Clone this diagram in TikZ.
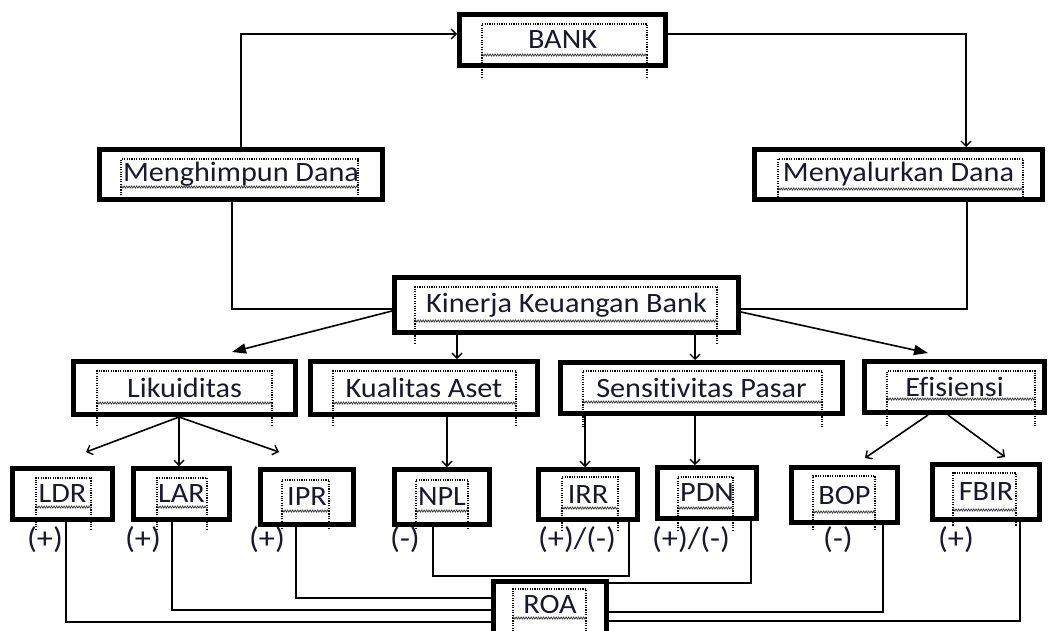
\documentclass[tikz,border=0pt]{standalone}
\usepackage{fontspec}
\setmainfont{Carlito}[FakeStretch=1.08,Ligatures=NoCommon]
\usetikzlibrary{arrows.meta,calc,decorations.pathmorphing}
\definecolor{txt}{RGB}{25,25,45}
\newcommand\tframe[5]{%
 \draw[tdot] (#1,#4) -- (#1,#3) -- (#2,#3) -- (#2,#4);
 \draw[tdot] (#1,#4) -- (#1,#5) (#2,#4) -- (#2,#5);
 \draw[twave] (#1,#4) -- (#2,#4);}
\begin{document}
\begin{tikzpicture}[x=1pt,y=-1pt,
 box/.style={draw, line width=5pt, inner sep=0pt, fill=white},
 lbl/.style={font=\fontsize{28}{30}\selectfont, text=txt, inner sep=0pt},
 sgn/.style={font=\fontsize{30}{32}\selectfont, text=txt, inner sep=0pt},
 conn/.style={line width=1.6pt},
 sa/.style={conn, -{Straight Barb[length=5pt,width=10pt,line width=1.4pt]}},
 ba/.style={conn, -{Triangle[length=14pt,width=10pt]}},
 tdot/.style={line width=1.1pt, dash pattern=on 1.1pt off 1.3pt},
 twave/.style={line width=0.8pt, gray!50!black, decorate, decoration={zigzag, amplitude=1pt, segment length=2.5pt}}]
\useasboundingbox (0,0) rectangle (1049,630);
\clip (0,0) rectangle (1049,630);
\fill[white] (0,0) rectangle (1049,630);

% boxes
\node[box, lbl, minimum width=206pt, minimum height=51pt] (bank) at (562.5,40) {BANK};
\node[box, lbl, minimum width=283pt, minimum height=50pt] (mengh) at (241,174.5) {Menghimpun Dana};
\node[box, lbl, minimum width=288pt, minimum height=50pt] (menyal) at (898.5,174.5) {Menyalurkan Dana};
\node[box, lbl, minimum width=344pt, minimum height=55pt] (kin) at (566.5,305) {Kinerja Keuangan Bank};
\node[box, lbl, minimum width=222pt, minimum height=53pt] (lik) at (184.5,388) {Likuiditas};
\node[box, lbl, minimum width=227pt, minimum height=53pt] (kual) at (424,388) {Kualitas Aset};
\node[box, lbl, minimum width=282pt, minimum height=51pt] (sens) at (701.5,388) {Sensitivitas Pasar};
\node[box, lbl, minimum width=180pt, minimum height=51pt] (efis) at (954.5,387) {Efisiensi};
\node[box, lbl, minimum width=100pt, minimum height=51pt] (ldr) at (62.5,494) {LDR};
\node[box, lbl, minimum width=96pt, minimum height=51pt] (lar) at (181.5,494) {LAR};
\node[box, lbl, minimum width=93pt, minimum height=55pt] (ipr) at (307,497) {IPR};
\node[box, lbl, minimum width=95pt, minimum height=55pt] (npl) at (442,497) {NPL};
\node[box, lbl, minimum width=99pt, minimum height=50pt] (irr) at (588,494.5) {IRR};
\node[box, lbl, minimum width=99pt, minimum height=51pt] (pdn) at (707,493) {PDN};
\node[box, lbl, minimum width=106pt, minimum height=55pt] (bop) at (844.5,495) {BOP};
\node[box, lbl, minimum width=107pt, minimum height=55pt] (fbir) at (986,492) {FBIR};
\node[box, minimum width=113pt, minimum height=56pt] (roa) at (550,609.5) {};
\node[lbl] (roat) at (550,604) {ROA};

% signs
\node[sgn] (sldr) at (45,540) {(+)};
\node[sgn] (slar) at (143,540) {(+)};
\node[sgn] (sipr) at (267,540) {(+)};
\node[sgn] (snpl) at (405,540) {(-)};
\node[sgn] (sirr) at (577,540) {(+)/(-)};
\node[sgn] (spdn) at (691,540) {(+)/(-)};
\node[sgn] (sbop) at (838,540) {(-)};
\node[sgn] (sfbir) at (956,540) {(+)};

% top loop
\draw[sa] (mengh.north) |- ([yshift=6pt]bank.west);
\draw[sa] ([yshift=6pt]bank.east) -| ([xshift=67.5pt]menyal.north);
\draw[conn] ([xshift=-9pt]mengh.south) |- ([yshift=-4pt]kin.west);
\draw[conn] ([xshift=68.5pt]menyal.south) |- ([yshift=-4pt]kin.east);

% Kinerja to second row
\draw[ba] ([yshift=-6pt]kin.west) -- ([xshift=47.5pt,yshift=7pt]lik.north);
\draw[ba] ([yshift=-7pt]kin.east) -- ([xshift=-26.5pt,yshift=6pt]efis.north);
\coordinate (kq) at ([xshift=33pt]kual.north);
\draw[sa] (kq |- kin.south) -- (kq);
\coordinate (sn) at ([xshift=-6.5pt]sens.north);
\draw[sa] (sn |- kin.south) -- (sn);

% second row to third row
\coordinate (ls) at ([xshift=-5.5pt]lik.south);
\draw[sa] (ls) -- ([xshift=23.5pt,yshift=14pt]ldr.north);
\draw[sa] (ls) -- (ls |- lar.north);
\draw[sa] (ls) -- ([xshift=-28pt,yshift=15pt]ipr.north);
\coordinate (ks) at ([xshift=23pt]kual.south);
\draw[sa] (ks) -- (ks |- npl.north);
\coordinate (s1) at ([xshift=-116.5pt]sens.south);
\draw[sa] (s1) -- (s1 |- irr.north);
\coordinate (s2) at ([xshift=-6.5pt]sens.south);
\draw[sa] (s2) -- (s2 |- pdn.north);
\draw[sa] ([xshift=-26.5pt]efis.south) -- ([xshift=20.5pt,yshift=7pt]bop.north);
\draw[sa] ([xshift=-6.5pt]efis.south) -- ([xshift=19pt,yshift=5pt]fbir.north);

% third row to ROA
\draw[conn] ([xshift=3.5pt]ldr.south) |- ([yshift=-12.5pt]roa.west);
\draw[conn] ([xshift=-9.5pt]lar.south) |- ([yshift=-0.5pt]roa.west);
\draw[conn] ([xshift=-11pt]ipr.south) |- ([yshift=11.5pt]roa.west);
\draw[conn] ([xshift=-9pt]npl.south) |- ([yshift=3pt]roa.north) -| ([xshift=41pt]irr.south);
\draw[conn] ([xshift=44pt]pdn.south) |- ([yshift=26.5pt]roa.east);
\draw[conn] ([xshift=38.5pt]bop.south) |- ([yshift=-2.5pt]roa.east);
\draw[conn] ([xshift=34pt]fbir.south) |- ([yshift=-11.5pt]roa.east);

% dotted text frames
\tframe{482}{647}{24}{55}{79}
\tframe{121}{358}{159}{187}{198}
\tframe{778}{1023}{159}{189}{200}
\tframe{415}{717}{287}{321}{343}
\tframe{97}{272}{371}{403}{425}
\tframe{333}{516}{371}{403}{425}
\tframe{583}{822}{371}{402}{427}
\tframe{887}{1035}{371}{399}{426}
\tframe{36}{91}{478}{507}{530}
\tframe{157}{207}{478}{507}{530}
\tframe{282}{329}{480}{511}{528}
\tframe{416}{468}{480}{511}{528}
\tframe{562}{618}{477}{508}{530}
\tframe{678}{733}{477}{508}{530}
\tframe{813}{875}{476}{512}{530}
\tframe{953}{1016}{473}{510}{526}
\tframe{513}{586}{589}{618}{640}
\end{tikzpicture}
\end{document}
